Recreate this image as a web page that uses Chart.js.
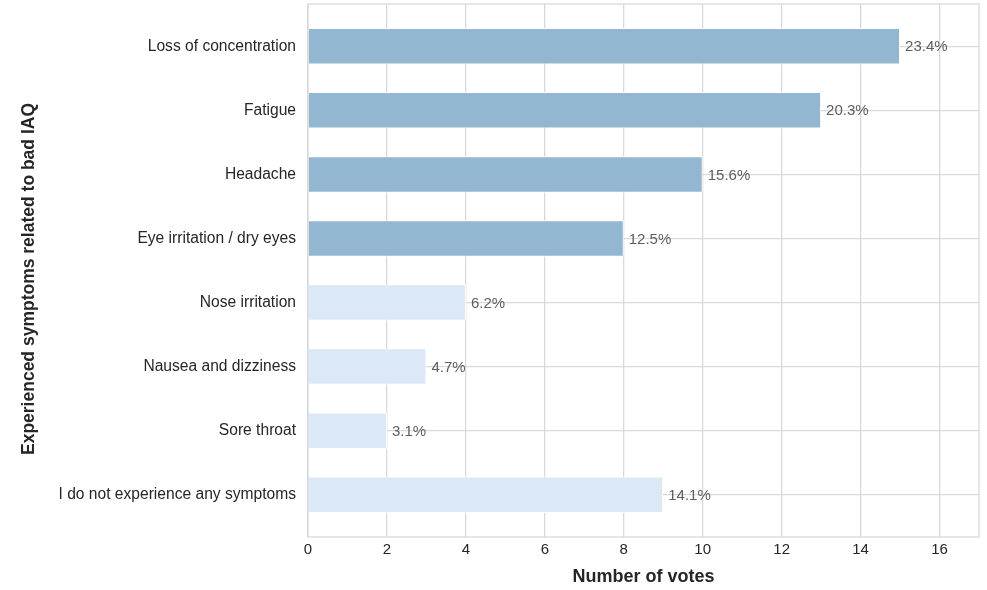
<!DOCTYPE html>
<html>
<head>
<meta charset="utf-8">
<script src="https://cdn.jsdelivr.net/npm/chart.js@4.4.1/dist/chart.umd.min.js"></script>
<style>
  html, body { margin: 0; padding: 0; background: #ffffff; }
  #wrap { width: 987px; height: 590px; }
</style>
</head>
<body>
<div id="wrap"><canvas id="symptomsChart"></canvas></div>
<script>
// Survey answers, top to bottom
const symptoms = [
    'Loss of concentration',
    'Fatigue',
    'Headache',
    'Eye irritation / dry eyes',
    'Nose irritation',
    'Nausea and dizziness',
    'Sore throat',
    'I do not experience any symptoms'
];
const votes = [15, 13, 10, 8, 4, 3, 2, 9];
// Share of all votes, in percent
const shares = [23.4, 20.3, 15.6, 12.5, 6.2, 4.7, 3.1, 14.1];
const xTicks = [0, 2, 4, 6, 8, 10, 12, 14, 16];

const darkBlue = '#93b7d1';
const lightBlue = '#dbe9f6';
const gridColor = '#d9d9d9';
const textColor = '#262626';
const fontFamily = '"Liberation Sans", Arial, sans-serif';

// First four answers are highlighted
const barColors = votes.map((v, i) => i < 4 ? darkBlue : lightBlue);

// Percent label at the end of every bar + frame + rotated y title
const barLabels = {
    id: 'barLabels',
    afterDatasetsDraw(chart) {
        const ctx = chart.ctx;
        const meta = chart.getDatasetMeta(0);
        ctx.save();
        ctx.font = '15px ' + fontFamily;
        ctx.fillStyle = '#5e5e5e';
        ctx.textAlign = 'left';
        ctx.textBaseline = 'middle';
        meta.data.forEach((bar, i) => {
            ctx.fillText(shares[i].toFixed(1) + '%', bar.x + 5, bar.y + 1);
        });
        ctx.restore();
    },
    afterDraw(chart) {
        const ctx = chart.ctx;
        const area = chart.chartArea;
        ctx.save();
        ctx.strokeStyle = gridColor;
        ctx.lineWidth = 1.3;
        ctx.strokeRect(area.left, area.top, area.right - area.left, area.bottom - area.top);

        // y axis title
        ctx.translate(29, 279);
        ctx.rotate(-Math.PI / 2);
        ctx.font = 'bold 17.5px ' + fontFamily;
        ctx.fillStyle = textColor;
        ctx.textAlign = 'center';
        ctx.textBaseline = 'middle';
        ctx.fillText('Experienced symptoms related to bad IAQ', 0, 0);
        ctx.restore();
    }
};

const symptomsConfig = {
    type: 'bar',
    data: {
        datasets: [{
            data: votes.map((v, i) => ({ x: v, y: i })),
            backgroundColor: barColors,
            borderColor: '#ffffff',
            borderWidth: 1,
            borderSkipped: 'start',
            categoryPercentage: 1,
            barPercentage: 0.57
        }]
    },
    options: {
        indexAxis: 'y',
        responsive: true,
        maintainAspectRatio: false,
        animation: false,
        layout: {
            padding: { top: 4, right: 8, left: 0, bottom: 0 }
        },
        plugins: {
            legend: { display: false },
            tooltip: { enabled: false }
        },
        scales: {
            x: {
                type: 'linear',
                min: 0,
                max: 17,
                afterFit: scale => { scale.height = 53; },
                afterBuildTicks: scale => {
                    scale.ticks = xTicks.map(v => ({ value: v }));
                },
                grid: {
                    color: gridColor,
                    lineWidth: 1.3,
                    drawTicks: false
                },
                border: { display: false },
                ticks: {
                    padding: 4,
                    color: textColor,
                    font: { size: 15, family: fontFamily }
                },
                title: {
                    display: true,
                    text: 'Number of votes',
                    color: textColor,
                    padding: { top: 0, bottom: 2 },
                    font: { size: 18, weight: 'bold', family: fontFamily }
                }
            },
            y: {
                type: 'linear',
                reverse: true,
                offset: false,
                min: -0.66,
                max: 7.66,
                afterFit: scale => {
                    scale.width = 308;
                    // labels sit well inside the range, no extra room needed
                    scale.paddingTop = 0;
                    scale.paddingBottom = 0;
                },
                grid: {
                    offset: false,
                    color: gridColor,
                    lineWidth: 1.3,
                    drawTicks: false
                },
                border: { display: false },
                ticks: {
                    stepSize: 1,
                    includeBounds: false,
                    autoSkip: false,
                    padding: 12,
                    color: textColor,
                    font: { size: 15.6, family: fontFamily },
                    callback: value => symptoms[value] ?? ''
                }
            }
        }
    },
    plugins: [barLabels]
};

const symptomsChart = new Chart(
    document.getElementById('symptomsChart'),
    symptomsConfig
);
</script>
</body>
</html>
